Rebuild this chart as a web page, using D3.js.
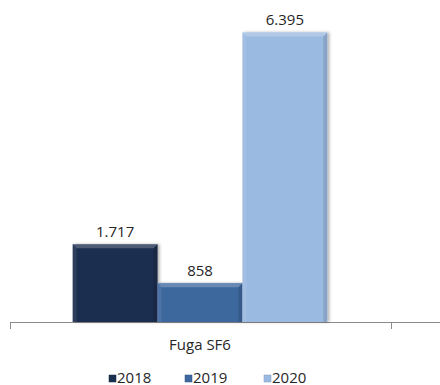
<!DOCTYPE html>
<html>
<head>
<meta charset="utf-8">
<script src="https://cdn.jsdelivr.net/npm/d3@7"></script>
<style>
  body { margin: 0; background: #fff; }
  text { font-family: "Open Sans", "Liberation Sans", sans-serif; fill: #262626; }
</style>
</head>
<body>
<div id="chart"></div>
<script>
// data
const categories = ['Fuga SF6'];
const years = ['2018', '2019', '2020'];
const values = [1717, 858, 6395];
const colors = ['#1b2f4f', '#3d679e', '#9bbae1'];

const width = 440, height = 385;
const fmt = d3.formatLocale({ decimal: ',', thousands: '.', grouping: [3], currency: ['', ''] }).format(',');

const svg = d3.select('#chart').append('svg')
  .attr('width', width)
  .attr('height', height);

// shadow behind the bars
const defs = svg.append('defs');
defs.append('filter').attr('id', 'shadow')
  .attr('x', '-10%').attr('y', '-10%').attr('width', '130%').attr('height', '120%')
  .append('feDropShadow')
  .attr('dx', 2).attr('dy', 0).attr('stdDeviation', 1.5)
  .attr('flood-color', '#000').attr('flood-opacity', 0.3);

const x0 = d3.scaleBand().domain(categories).range([9, 391]).paddingInner(0).paddingOuter(0.25);
const x1 = d3.scaleBand().domain(years).range([0, x0.bandwidth()]).padding(0);
const y = d3.scaleLinear().domain([0, 7000]).range([322, 5]);

// axis line
svg.append('line')
  .attr('x1', 10).attr('x2', width)
  .attr('y1', 322.5).attr('y2', 322.5)
  .attr('stroke', '#8a8a8a').attr('stroke-width', 1.2);
[10, 391].forEach(t => {
  svg.append('line')
    .attr('x1', t + 0.5).attr('x2', t + 0.5)
    .attr('y1', 322).attr('y2', 329)
    .attr('stroke', '#8a8a8a').attr('stroke-width', 1);
});

const rows = years.map((yr, i) => ({ year: yr, value: values[i], color: colors[i], cat: categories[0] }));

const bar = svg.append('g').selectAll('g')
  .data(rows)
  .join('g')
  .attr('transform', d => `translate(${x0(d.cat) + x1(d.year)},${y(d.value)})`);

const bw = x1.bandwidth();
const b = 4; // bevel size

bar.append('rect')
  .attr('width', bw)
  .attr('height', d => y(0) - y(d.value))
  .attr('fill', d => d.color)
  .attr('filter', 'url(#shadow)');

// bevel: top lighter, sides shaded
bar.append('polygon')
  .attr('points', `0,0 ${bw},0 ${bw - b},${b} ${b},${b}`)
  .attr('fill', '#fff').attr('opacity', 0.22);
bar.append('polygon')
  .attr('points', d => { const h = y(0) - y(d.value); return `0,0 ${b},${b} ${b},${h} 0,${h}`; })
  .attr('fill', '#fff').attr('opacity', 0.08);
bar.append('polygon')
  .attr('points', d => { const h = y(0) - y(d.value); return `${bw},0 ${bw},${h} ${bw - b},${h} ${bw - b},${b}`; })
  .attr('fill', '#000').attr('opacity', 0.12);

// value labels
svg.append('g').selectAll('text')
  .data(rows)
  .join('text')
  .attr('x', d => x0(d.cat) + x1(d.year) + bw / 2)
  .attr('y', d => y(d.value) - 7)
  .attr('text-anchor', 'middle')
  .attr('font-size', 15)
  .text(d => fmt(d.value));

// category label
svg.append('text')
  .attr('x', x0(categories[0]) + x0.bandwidth() / 2)
  .attr('y', 350)
  .attr('text-anchor', 'middle')
  .attr('font-size', 15)
  .text(categories[0]);

// legend
const legendX = [109, 185, 264];
const lg = svg.append('g').selectAll('g')
  .data(rows)
  .join('g')
  .attr('transform', (d, i) => `translate(${legendX[i]},375)`);
lg.append('rect')
  .attr('width', 7).attr('height', 7)
  .attr('fill', d => d.color)
  .attr('stroke', d => d3.color(d.color).darker(0.5)).attr('stroke-width', 0.5);
lg.append('text')
  .attr('x', 8).attr('y', 7.5)
  .attr('font-size', 15)
  .text(d => d.year);
</script>
</body>
</html>
